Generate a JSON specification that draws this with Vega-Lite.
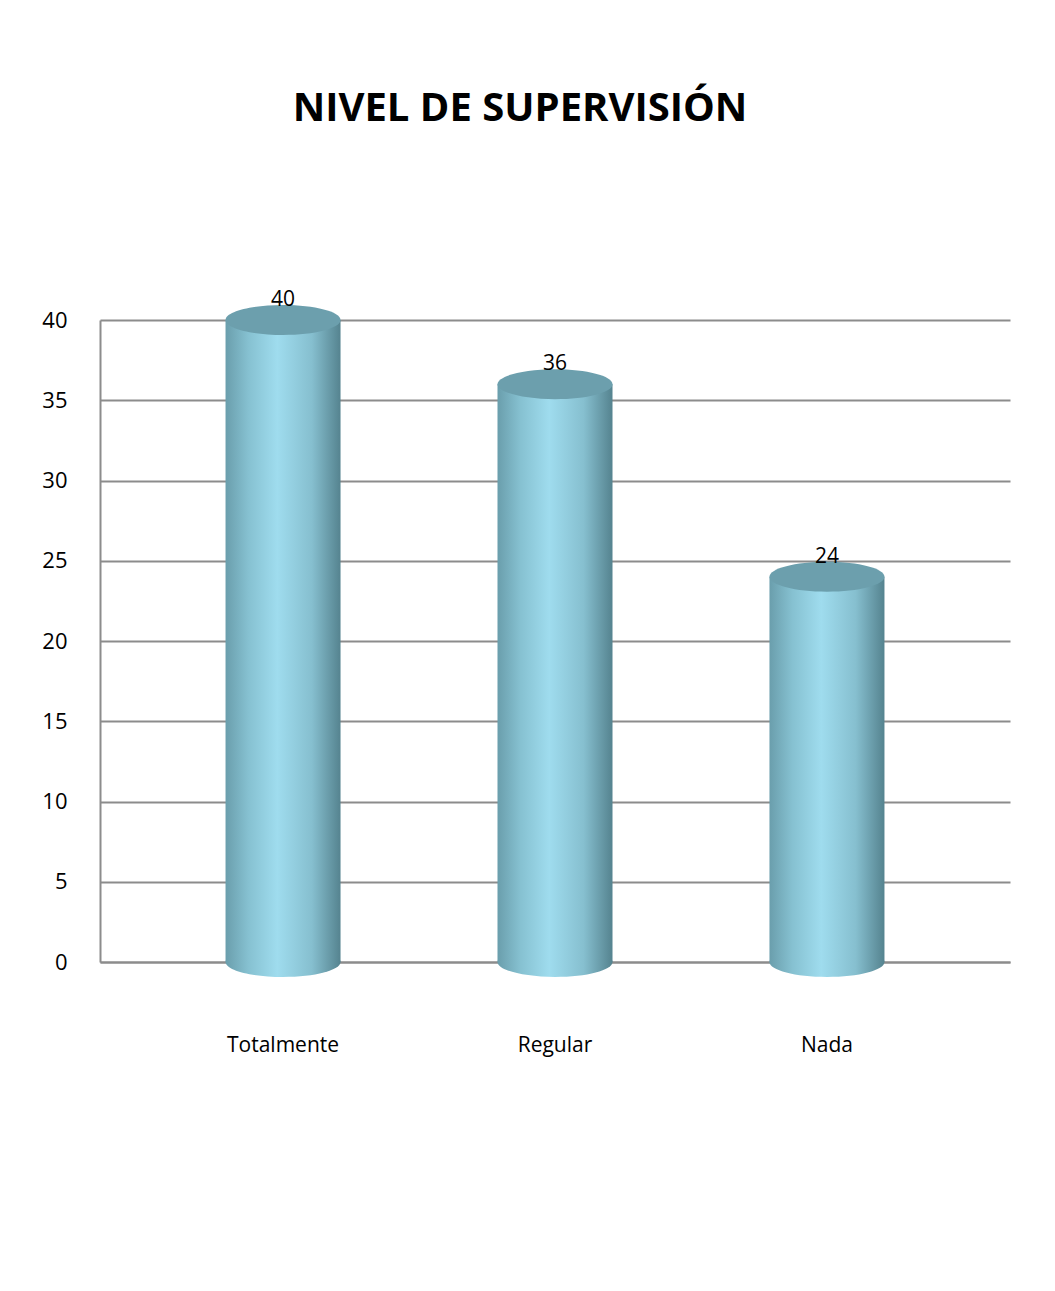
{
  "$schema": "https://vega.github.io/schema/vega-lite/v6.json",
  "autosize": {"type": "none"},
  "width": 910,
  "height": 642,
  "padding": {"left": 100, "top": 320, "right": 45, "bottom": 329},
  "background": "white",
  "config": {"view": {"stroke": null}, "font": "Open Sans"},
  "title": {
    "text": "NIVEL DE SUPERVISIÓN",
    "font": "Open Sans",
    "fontSize": 40,
    "fontWeight": "bold",
    "color": "#000000",
    "anchor": "middle",
    "dx": -35,
    "offset": 160
  },
  "data": {
    "values": [
      {"categoria": "Totalmente", "valor": 40},
      {"categoria": "Regular", "valor": 36},
      {"categoria": "Nada", "valor": 24}
    ]
  },
  "encoding": {
    "x": {
      "field": "categoria",
      "type": "nominal",
      "sort": null,
      "scale": {"paddingInner": 0.578, "paddingOuter": 0.462},
      "axis": {
        "title": null,
        "labelAngle": 0,
        "labelFontSize": 21,
        "labelColor": "#000000",
        "labelPadding": 72,
        "ticks": false,
        "domainColor": "#8c8c8c",
        "domainWidth": 2
      }
    }
  },
  "layer": [
    {
      "mark": {
        "type": "bar",
        "width": 115,
        "color": {
          "gradient": "linear",
          "x1": 0, "x2": 1, "y1": 0, "y2": 0,
          "stops": [
            {"offset": 0, "color": "#6a9eac"},
            {"offset": 0.2, "color": "#86c1d1"},
            {"offset": 0.45, "color": "#9fdcee"},
            {"offset": 0.75, "color": "#86bfcf"},
            {"offset": 1, "color": "#55838f"}
          ]
        }
      },
      "encoding": {
        "y": {
          "field": "valor",
          "type": "quantitative",
          "scale": {"domain": [0, 40], "nice": false},
          "axis": {
            "title": null,
            "values": [0, 5, 10, 15, 20, 25, 30, 35, 40],
            "labelFontSize": 22,
            "labelColor": "#000000",
            "labelPadding": 33,
            "ticks": false,
            "domainColor": "#8c8c8c",
            "domainWidth": 2,
            "grid": true,
            "gridColor": "#8c8c8c",
            "gridWidth": 2
          }
        }
      }
    },
    {
      "mark": {
        "type": "point",
        "shape": "M -1 0 A 1 0.26 0 1 0 1 0 A 1 0.26 0 1 0 -1 0 Z",
        "size": 13225,
        "filled": true,
        "opacity": 1,
        "color": {
          "gradient": "linear",
          "x1": 0, "x2": 1, "y1": 0, "y2": 0,
          "stops": [
            {"offset": 0, "color": "#6a9eac"},
            {"offset": 0.2, "color": "#86c1d1"},
            {"offset": 0.45, "color": "#9fdcee"},
            {"offset": 0.75, "color": "#86bfcf"},
            {"offset": 1, "color": "#55838f"}
          ]
        }
      },
      "encoding": {
        "y": {"datum": 0, "type": "quantitative"}
      }
    },
    {
      "mark": {
        "type": "point",
        "shape": "M -1 0 A 1 0.26 0 1 0 1 0 A 1 0.26 0 1 0 -1 0 Z",
        "size": 13225,
        "filled": true,
        "opacity": 1,
        "color": "#6c9fad"
      },
      "encoding": {
        "y": {"field": "valor", "type": "quantitative"}
      }
    },
    {
      "mark": {
        "type": "text",
        "fontSize": 21,
        "color": "#000000",
        "baseline": "bottom",
        "dy": -10
      },
      "encoding": {
        "y": {"field": "valor", "type": "quantitative"},
        "text": {"field": "valor", "type": "quantitative"}
      }
    }
  ]
}
